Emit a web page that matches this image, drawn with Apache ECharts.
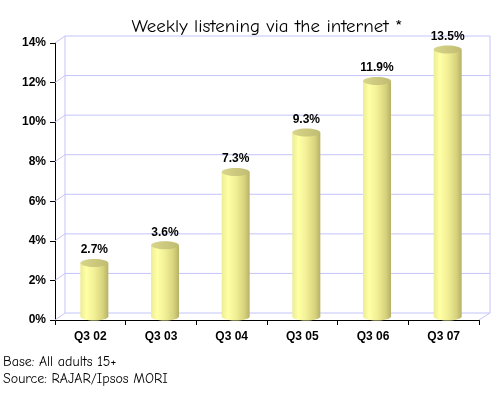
<!DOCTYPE html>
<html>
<head>
<meta charset="utf-8">
<script src="https://cdn.jsdelivr.net/npm/echarts@6/dist/echarts.min.js"></script>
<style>html,body{margin:0;padding:0;background:#fff}#c{width:500px;height:396px}</style>
</head>
<body>
<div id="c"></div>
<script>
const titleText = 'Weekly listening via the internet *';
const categories = ['Q3 02', 'Q3 03', 'Q3 04', 'Q3 05', 'Q3 06', 'Q3 07'];
const values = [2.7, 3.6, 7.3, 9.3, 11.9, 13.5];
const yTicks = [0, 2, 4, 6, 8, 10, 12, 14];
const footnotes = ['Base: All adults 15+', 'Source: RAJAR/Ipsos MORI'];

const DX = 10, DY = 7;
const WALL = '#c4c4fa';
const AX_FONT = 'Liberation Sans, Arial, sans-serif';
const COMIC = '"Comic Sans MS", "Comic Neue", "DejaVu Sans", sans-serif';

const chart = echarts.init(document.getElementById('c'), null, {renderer: 'canvas'});

function renderWall(params, api) {
  const cs = params.coordSys;
  const y = api.coord([0, api.value(1)])[1];
  const x0 = cs.x, x1 = cs.x + cs.width;
  const children = [
    {type: 'line', shape: {x1: x0, y1: y, x2: x0 + DX, y2: y - DY}, style: {stroke: WALL, lineWidth: 1}},
    {type: 'line', shape: {x1: x0 + DX, y1: y - DY, x2: x1 + DX + 1, y2: y - DY}, style: {stroke: WALL, lineWidth: 1}}
  ];
  if (params.dataIndex === 0) {
    const yTop = cs.y;
    children.push({type: 'line', shape: {x1: x0 + DX, y1: y - DY, x2: x0 + DX, y2: yTop - DY}, style: {stroke: WALL, lineWidth: 1}});
    children.push({type: 'line', shape: {x1: x1 + DX + 1, y1: y - DY, x2: x1 + DX + 1, y2: yTop - DY}, style: {stroke: WALL, lineWidth: 1}});
    children.push({type: 'line', shape: {x1: x1, y1: y, x2: x1 + DX + 1, y2: y - DY}, style: {stroke: WALL, lineWidth: 1}});
  }
  return {type: 'group', children: children};
}

function bodyGrad() {
  return new echarts.graphic.LinearGradient(0, 0, 1, 0, [
    {offset: 0, color: '#ecec94'},
    {offset: 0.22, color: '#ffffa6'},
    {offset: 0.5, color: '#f2f096'},
    {offset: 0.8, color: '#d8d47e'},
    {offset: 1, color: '#b6b266'}
  ]);
}

function renderBar(params, api) {
  const idx = api.value(0);
  const v = api.value(1);
  const top = api.coord([idx, v]);
  const base = api.coord([idx, 0]);
  const cx = top[0] + 4;
  const rx = 14, ry = 4;
  const yTop = top[1] - DY / 2;
  const yBot = base[1] - DY / 2;
  return {
    type: 'group',
    children: [
      {type: 'ellipse', shape: {cx: cx, cy: yBot, rx: rx, ry: ry}, style: {fill: bodyGrad()}},
      {type: 'rect', shape: {x: cx - rx, y: yTop, width: rx * 2, height: yBot - yTop}, style: {fill: bodyGrad()}},
      {type: 'ellipse', shape: {cx: cx, cy: yTop, rx: rx, ry: ry},
        style: {fill: new echarts.graphic.LinearGradient(0, 0, 1, 0, [
          {offset: 0, color: '#d8d68a'}, {offset: 1, color: '#c0bc72'}])}},
      {type: 'text', style: {x: cx, y: yTop - ry - 3, text: v.toFixed(1) + '%', align: 'center', verticalAlign: 'bottom',
        font: 'bold 12px ' + AX_FONT, fill: '#000'}}
    ]
  };
}

chart.setOption({
  animation: false,
  title: {text: titleText, left: 262, top: 12, textAlign: 'center',
    textStyle: {fontFamily: COMIC, fontSize: 19, fontWeight: 'normal', color: '#000'}},
  grid: {left: 55, right: 21, top: 43, bottom: 76},
  xAxis: {
    type: 'category', data: categories,
    axisLine: {lineStyle: {color: '#000', width: 1}},
    axisTick: {show: true, length: 5, lineStyle: {color: '#000'}},
    axisLabel: {fontFamily: AX_FONT, fontWeight: 'bold', fontSize: 12, color: '#000', margin: 11},
    splitLine: {show: false}
  },
  yAxis: {
    type: 'value', min: 0, max: 14, interval: 2,
    axisLine: {show: true, lineStyle: {color: '#000', width: 1}},
    axisTick: {show: true, length: 5, lineStyle: {color: '#000'}},
    axisLabel: {formatter: '{value}%', fontFamily: AX_FONT, fontWeight: 'bold', fontSize: 12, color: '#000', margin: 9},
    splitLine: {show: false}
  },
  graphic: footnotes.map((t, i) => ({
    type: 'text', left: 3, top: 355 + i * 17,
    style: {text: t, font: '14px ' + COMIC, fill: '#000'}
  })),
  series: [
    {type: 'custom', renderItem: renderWall, data: yTicks.map(v => [0, v]), encode: {x: 0, y: 1}, z: 1, clip: false, silent: true},
    {type: 'custom', renderItem: renderBar, data: values.map((v, i) => [i, v]), encode: {x: 0, y: 1}, z: 3, clip: false}
  ]
});
</script>
</body>
</html>
